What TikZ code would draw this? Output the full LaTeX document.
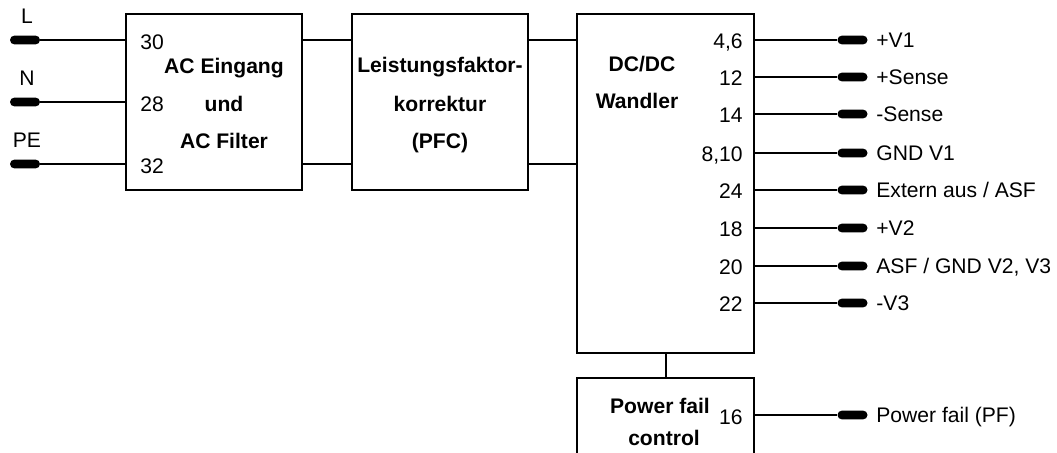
\documentclass[tikz,border=0pt]{standalone}
\usepackage{fontspec}
\setmainfont{Liberation Sans}
\begin{document}
\begin{tikzpicture}[x=0.5pt,y=-0.5pt,
  box/.style={draw,line width=1.3pt,rectangle,inner sep=0pt},
  pinend/.style={fill=black,rectangle,rounded corners=2.2pt,minimum width=15pt,minimum height=4.4pt,inner sep=0pt},
  wire/.style={line width=1pt},
  txt/.style={font=\fontsize{10.55}{12}\selectfont,inner sep=0pt,text height=7.55pt,text depth=0pt},
  btxt/.style={txt,font=\fontsize{10.55}{12}\selectfont\bfseries}]
\useasboundingbox (0,0) rectangle (1057,453);
% boxes
\node[box,minimum width=88pt,minimum height=88pt] (ac) at (214,102) {};
\node[box,minimum width=88pt,minimum height=88pt] (pfc) at (440,102) {};
\node[box,minimum width=88.5pt,minimum height=169.5pt] (dc) at (665.5,183.5) {};
\node[box,minimum width=88.5pt,minimum height=38.5pt] (pf) at (665.5,416.5) {};
% box texts
\node[btxt] (t1) at (224,66) {AC Eingang};
\node[btxt] (t2) at (224,104) {und};
\node[btxt] (t3) at (224,141) {AC Filter};
\node[btxt] (t4) at (440,65) {Leistungsfaktor-};
\node[btxt] (t5) at (440,104) {korrektur};
\node[btxt] (t6) at (440,141) {(PFC)};
\node[btxt] (t7) at (642,64) {DC/DC};
\node[btxt] (t8) at (637,101) {Wandler};
\node[btxt] (t9) at (660,406) {Power fail};
\node[btxt] (t10) at (664,438) {control};
% input pins
\foreach \n/\y/\lab/\num in {L/40/L/30, N/102/N/28, PE/164/PE/32}{
  \node[pinend] (p\n) at (25,\y) {};
  \node[txt] (l\n) at (27,\y-24) {\lab};
  \node[txt,anchor=west] (n\n) at (140,\y+2) {\num};
  \draw[wire] (p\n.east) -- (ac.west |- p\n);
}
% ac -> pfc -> dc
\coordinate (a1) at (302,40);
\coordinate (a2) at (302,164);
\draw[wire] (ac.east |- a1) -- (pfc.west |- a1);
\draw[wire] (ac.east |- a2) -- (pfc.west |- a2);
\draw[wire] (pfc.east |- a1) -- (dc.west |- a1);
\draw[wire] (pfc.east |- a2) -- (dc.west |- a2);
% outputs
\foreach \i/\y/\num/\lab in {1/40/{4,6}/{+V1}, 2/77/12/{+Sense}, 3/114/14/{-Sense}, 4/153/{8,10}/{GND V1}, 5/190/24/{Extern aus / ASF}, 6/228/18/{+V2}, 7/266/20/{ASF / GND V2, V3}, 8/303/22/{-V3}}{
  \node[pinend] (q\i) at (852.5,\y) {};
  \node[txt,anchor=east] (m\i) at (743,\y+0.5) {\num};
  \node[txt,anchor=west] (o\i) at (876,\y) {\lab};
  \draw[wire] (dc.east |- q\i) -- (q\i.west);
}
% power fail
\draw[wire] (dc.south) -- (pf.north);
\node[pinend] (q9) at (852.5,415) {};
\node[txt,anchor=east] (m9) at (743,417) {16};
\node[txt,anchor=west] (o9) at (876,415) {Power fail (PF)};
\draw[wire] (pf.east |- q9) -- (q9.west);
\end{tikzpicture}
\end{document}
